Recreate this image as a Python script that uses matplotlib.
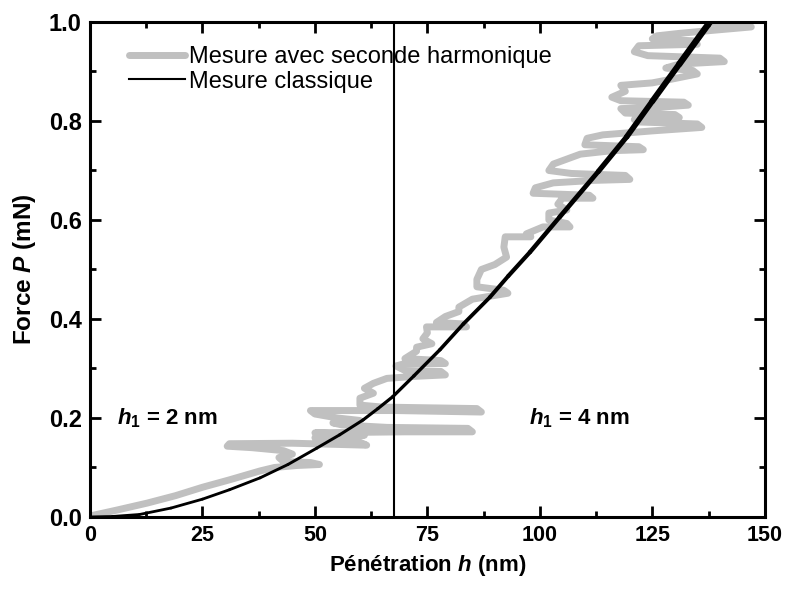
import matplotlib.pyplot as plt
from matplotlib.ticker import MultipleLocator

plt.rcParams['font.family'] = ['Liberation Sans', 'DejaVu Sans']
plt.rcParams['mathtext.fontset'] = 'custom'
plt.rcParams['mathtext.it'] = 'Liberation Sans:bold:italic'
plt.rcParams['mathtext.rm'] = 'Liberation Sans:bold'
plt.rcParams['mathtext.bf'] = 'Liberation Sans:bold'

# gray curve: measurement with second harmonic (h in nm, P in mN)
h_harm = [0, 6, 12.7, 19, 25, 31, 37.8,
          41, 46, 51, 49, 43, 42, 45, 43,
          36, 30.5, 31, 45, 61.5, 60, 52,
          50, 57, 61, 55, 50, 70, 85, 84, 66, 56, 54, 60, 55, 50, 49, 68, 87, 86, 65, 60,
          60, 63, 61, 63, 66, 72, 79, 78, 70, 68, 70, 79, 78, 70, 72.6, 72.6, 76, 74, 75,
          74.8, 83.7, 83, 77, 79, 82, 82, 85, 92.9, 92, 86, 86, 87, 90, 92.6, 92, 92.3,
          98, 97, 100.7, 106.7, 106, 102, 102, 106, 104, 105, 111.8, 111, 98.5, 99, 103,
          112, 120, 119, 107, 102, 103, 106, 109, 116, 123, 122, 110, 110.5, 114, 125,
          136, 135, 122, 121, 131, 130, 119, 118, 127, 133, 132, 118, 116, 119, 118, 125,
          129, 135, 134, 128, 131, 141, 140, 124, 121, 122, 135, 134, 125, 126, 131, 137,
          147, 146, 138, 140]
P_harm = [0.002, 0.014, 0.028, 0.043, 0.06, 0.075, 0.093,
          0.1, 0.104, 0.106, 0.11, 0.112, 0.12, 0.127, 0.134,
          0.14, 0.143, 0.148, 0.149, 0.145, 0.151, 0.155,
          0.16, 0.163, 0.165, 0.168, 0.17, 0.172, 0.172, 0.179, 0.181, 0.186, 0.19, 0.195,
          0.2, 0.208, 0.215, 0.215, 0.212, 0.219, 0.222, 0.226,
          0.24, 0.25, 0.26, 0.27, 0.28, 0.284, 0.287, 0.294, 0.296, 0.305, 0.31, 0.31,
          0.316, 0.32, 0.335, 0.343, 0.35, 0.36, 0.372,
          0.384, 0.384, 0.39, 0.393, 0.405, 0.415, 0.424, 0.44, 0.452, 0.458, 0.465, 0.48,
          0.5, 0.51, 0.525, 0.545, 0.566,
          0.566, 0.572, 0.586, 0.586, 0.593, 0.6, 0.614, 0.62, 0.632, 0.644, 0.644, 0.65,
          0.654, 0.665, 0.675,
          0.68, 0.682, 0.69, 0.694, 0.7, 0.713, 0.723, 0.733, 0.74, 0.742, 0.748, 0.752,
          0.765, 0.772, 0.78,
          0.787, 0.794, 0.798, 0.803, 0.807, 0.813, 0.816, 0.825, 0.828, 0.832, 0.838,
          0.841, 0.848, 0.86, 0.872, 0.877,
          0.884, 0.895, 0.902, 0.907, 0.915, 0.92, 0.927, 0.932, 0.94, 0.952, 0.955, 0.962,
          0.966, 0.972, 0.977, 0.982,
          0.99, 0.996, 0.998, 1.0]

# black curve: classical measurement
h_class = [0, 5, 11, 18, 25, 31, 37.8, 44, 50.4, 55.5, 60.7, 64, 67.3, 72, 77.8, 83,
           88.9, 93, 97.8, 104.4, 113, 119.3, 125, 131, 137.8]
P_class = [0, 0.001, 0.005, 0.018, 0.036, 0.055, 0.079, 0.106, 0.139, 0.166, 0.196,
           0.219, 0.243, 0.285, 0.338, 0.39, 0.444, 0.487, 0.535, 0.606, 0.698, 0.768,
           0.84, 0.915, 1.0]

h_switch = 67.5

fig = plt.figure(figsize=(7.86, 5.96), dpi=100)
ax = fig.add_axes([0.1145, 0.1326, 0.8585, 0.8305])

ax.plot(h_harm, P_harm, color='#c0c0c0', lw=5, solid_capstyle='round',
        solid_joinstyle='round', label='Mesure avec seconde harmonique')
# classical curve gets thicker towards the top
for i in range(len(h_class) - 1):
    w = 2.0 + 3.0 * (P_class[i] ** 1.5)
    ax.plot(h_class[i:i + 2], P_class[i:i + 2], color='black', lw=w, solid_capstyle='round')
ax.plot([], [], color='black', lw=1.5, label='Mesure classique')
ax.axvline(h_switch, color='black', lw=1.5)

ax.text(6, 0.2, r'$h_{\mathit{1}}$ = 2 nm', fontsize=16, fontweight='bold', va='center')
ax.text(97.5, 0.2, r'$h_{\mathit{1}}$ = 4 nm', fontsize=16, fontweight='bold', va='center')

ax.set_xlim(0, 150)
ax.set_ylim(0, 1.0)
ax.xaxis.set_major_locator(MultipleLocator(25))
ax.xaxis.set_minor_locator(MultipleLocator(12.5))
ax.yaxis.set_major_locator(MultipleLocator(0.2))
ax.yaxis.set_minor_locator(MultipleLocator(0.1))
ax.tick_params(which='both', direction='in', width=2, top=True, right=True)
ax.tick_params(which='major', length=8, pad=6)
ax.tick_params(which='minor', length=4)
ax.set_yticks([0, 0.2, 0.4, 0.6, 0.8, 1.0], ['0.0', '0.2', '0.4', '0.6', '0.8', '1.0'])
for lab in ax.get_yticklabels():
    lab.set_fontsize(17)
    lab.set_fontweight('bold')
for lab in ax.get_xticklabels():
    lab.set_fontsize(15.5)
    lab.set_fontweight('bold')
for s in ax.spines.values():
    s.set_linewidth(2.2)

ax.set_xlabel(r'Pénétration $h$ (nm)', fontsize=16, fontweight='bold', labelpad=5)
ax.set_ylabel(r'Force $P$ (mN)', fontsize=17.5, fontweight='bold', labelpad=8)

ax.legend(loc='upper left', bbox_to_anchor=(0.04, 0.975), frameon=False, fontsize=17,
          handlelength=2.4, handletextpad=0.15, labelspacing=0.1, borderpad=0)

fig.savefig('out.png', dpi=100)
